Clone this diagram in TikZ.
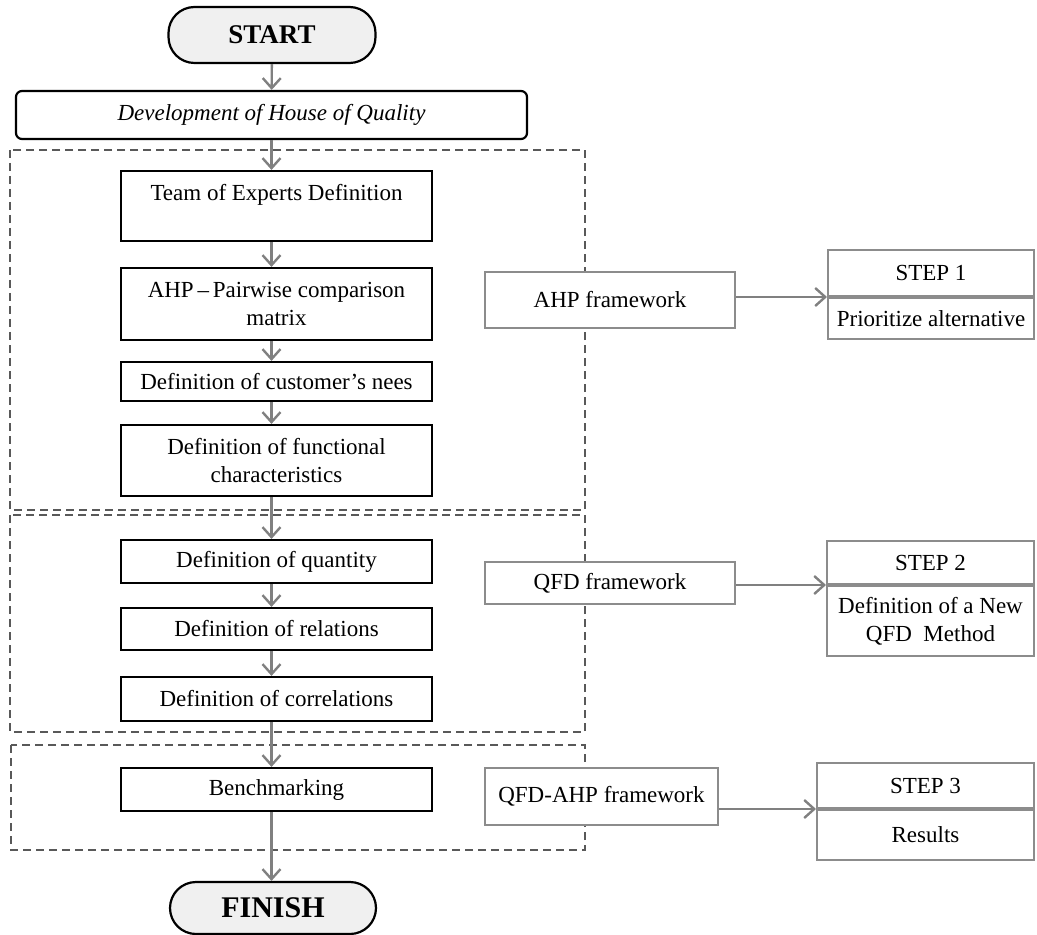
\documentclass[tikz,border=0pt]{standalone}
\usepackage{fontspec}
\setmainfont{Liberation Serif}
\usetikzlibrary{arrows.meta}

\begin{document}
\begin{tikzpicture}[x=0.5pt,y=-0.5pt,
  box/.style={draw,line width=1.1pt,inner sep=0pt,align=center,font=\fontsize{11.5}{14}\selectfont},
  term/.style={box,fill=black!6,rounded corners=13pt},
  fw/.style={draw=black!45,line width=1pt,fill=white,inner sep=0pt,align=center,font=\fontsize{11.5}{14}\selectfont},
  grp/.style={draw=black!65,dash pattern=on 4pt off 2.5pt,line width=1.1pt},
  arr/.style={draw=black!50,line width=1.2pt,-{Straight Barb[length=5pt,width=9pt]}}]
  \useasboundingbox (0,0) rectangle (1037,935);
  % dashed groups
  \draw[grp] (10,150) rectangle (585,510);
  \draw[grp] (10,515) rectangle (585,732);
  \draw[grp] (11,745) rectangle (585,850);
  % main column
  \node (start) at (272,35) [term,minimum width=103.5pt,minimum height=28pt,font=\fontsize{13.5}{16}\selectfont\bfseries] {START};
  \node (dev) at (271.5,115) [box,rounded corners=3pt,minimum width=255.5pt,minimum height=24pt,font=\fontsize{11.5}{14}\selectfont\itshape] {Development of House of Quality};
  \node (team) at (276.5,206) [box,minimum width=155.5pt,minimum height=35pt] {Team of Experts Definition\\~};
  \node (ahp) at (276.5,304) [box,minimum width=155.5pt,minimum height=36pt] {AHP\,--\,Pairwise comparison\\matrix};
  \node (cust) at (276.5,381.5) [box,minimum width=155.5pt,minimum height=19.5pt] {Definition of customer’s nees};
  \node (func) at (276.5,460.5) [box,minimum width=155.5pt,minimum height=35.5pt] {Definition of functional\\characteristics};
  \node (quan) at (276.5,561.5) [box,minimum width=155.5pt,minimum height=21.5pt] {Definition of quantity};
  \node (rel) at (276.5,629) [box,minimum width=155.5pt,minimum height=21pt] {Definition of relations};
  \node (corr) at (276.5,699) [box,minimum width=155.5pt,minimum height=22pt] {Definition of correlations};
  \node (bench) at (276.5,789.5) [box,minimum width=155.5pt,minimum height=21.5pt] {Benchmarking};
  \node (finish) at (273,908) [term,minimum width=103pt,minimum height=26pt,font=\fontsize{15}{18}\selectfont\bfseries] {FINISH};
  \draw[arr] (start) -- (dev);
  \draw[arr] (dev.south) -- (team.north -| dev);
  \draw[arr] (team.south -| dev) -- (ahp.north -| dev);
  \draw[arr] (ahp.south -| dev) -- (cust.north -| dev);
  \draw[arr] (cust.south -| dev) -- (func.north -| dev);
  \draw[arr] (func.south -| dev) -- (quan.north -| dev);
  \draw[arr] (quan.south -| dev) -- (rel.north -| dev);
  \draw[arr] (rel.south -| dev) -- (corr.north -| dev);
  \draw[arr] (corr.south -| dev) -- (bench.north -| dev);
  \draw[arr] (bench.south -| dev) -- (finish.north -| dev);
  % frameworks
  \node (fw1) at (610,300) [fw,minimum width=125pt,minimum height=28pt] {AHP framework};
  \node (fw2) at (610,583) [fw,minimum width=125pt,minimum height=21pt] {QFD framework};
  \node (fw3) at (601.5,796.5) [fw,minimum width=116.5pt,minimum height=28.5pt] {QFD-AHP framework};
  % steps
  \node (s1h) at (931,273) [fw,minimum width=103pt,minimum height=23pt] {STEP 1};
  \node (s1b) at (s1h.south) [fw,anchor=north,minimum width=103pt,minimum height=20.5pt] {Prioritize alternative};
  \node (s2h) at (930.5,562.5) [fw,minimum width=103.5pt,minimum height=21.5pt] {STEP 2};
  \node (s2b) at (s2h.south) [fw,anchor=north,minimum width=103.5pt,minimum height=35pt] {Definition of a New\\QFD\ \ Method};
  \node (s3h) at (925.5,785.5) [fw,minimum width=108.5pt,minimum height=22.5pt] {STEP 3};
  \node (s3b) at (s3h.south) [fw,anchor=north,minimum width=108.5pt,minimum height=25pt] {Results};
  \draw[arr] (fw1.east |- s1h.south) -- (s1h.south west);
  \draw[arr] (fw2.east |- s2h.south) -- (s2h.south west);
  \draw[arr] (fw3.east |- s3h.south) -- (s3h.south west);
\end{tikzpicture}
\end{document}
